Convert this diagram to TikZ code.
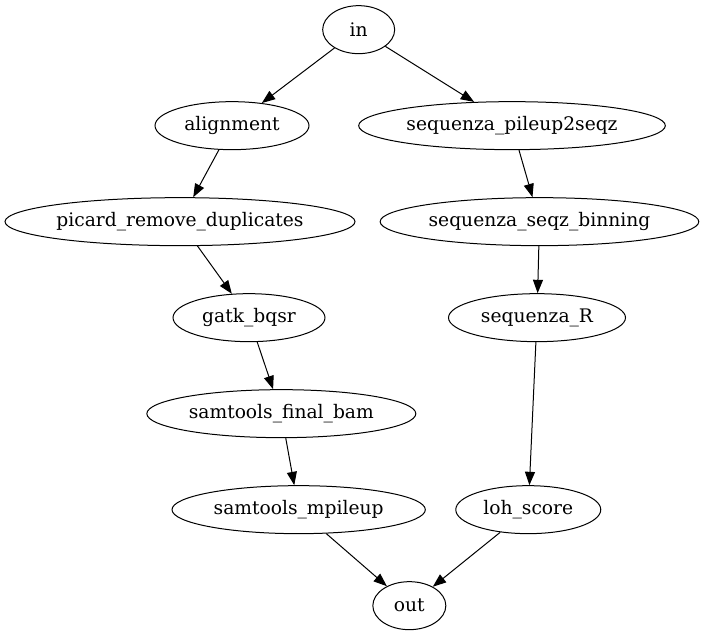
\documentclass[tikz,border=0pt]{standalone}
\usepackage{fontspec}
\setmainfont{DejaVu Serif}
\usetikzlibrary{shapes.geometric,arrows.meta}
\begin{document}
\begin{tikzpicture}[x=1pt,y=1pt,
  nd/.style={draw=black, line width=0.75pt, ellipse, inner sep=0pt, minimum height=36pt,
             font=\fontsize{14}{16}\selectfont},
  edge/.style={draw=black, line width=0.75pt, -{Triangle[length=10pt,width=7.5pt]}}]
\useasboundingbox (0,0) rectangle (526.5,476.25);
\node[nd, minimum width=54pt]    (in)  at (269,454)   {in};
\node[nd, minimum width=115.5pt] (al)  at (174,382)   {alignment};
\node[nd, minimum width=230pt]   (sp)  at (384,382)   {sequenza\_pileup2seqz};
\node[nd, minimum width=262.5pt] (pr)  at (135,310)   {picard\_remove\_duplicates};
\node[nd, minimum width=239pt]   (sb)  at (404.6,310) {sequenza\_seqz\_binning};
\node[nd, minimum width=114pt]   (gb)  at (186.75,238) {gatk\_bqsr};
\node[nd, minimum width=132.75pt] (sr) at (402.75,238) {sequenza\_R};
\node[nd, minimum width=201.75pt] (fb) at (211,166)   {samtools\_final\_bam};
\node[nd, minimum width=190pt]   (mp)  at (224,94)    {samtools\_mpileup};
\node[nd, minimum width=108.75pt] (lh) at (396.2,94)  {loh\_score};
\node[nd, minimum width=54.75pt] (out) at (307,22)    {out};
\draw[edge] (in) -- (al);
\draw[edge] (in) -- (sp);
\draw[edge] (al) -- (pr);
\draw[edge] (pr) -- (gb);
\draw[edge] (gb) -- (fb);
\draw[edge] (fb) -- (mp);
\draw[edge] (mp) -- (out);
\draw[edge] (sp) -- (sb);
\draw[edge] (sb) -- (sr);
\draw[edge] (sr) -- (lh);
\draw[edge] (lh) -- (out);
\end{tikzpicture}
\end{document}
